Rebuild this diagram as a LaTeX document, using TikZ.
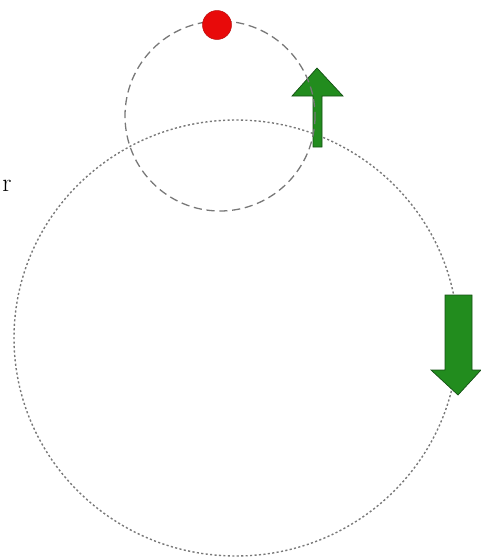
\documentclass[tikz,border=0pt]{standalone}
\usepackage{tikz}
\usetikzlibrary{positioning,calc}
\definecolor{ballred}{RGB}{232,10,10}
\definecolor{arrowgreen}{RGB}{34,140,30}
\definecolor{arrowedge}{RGB}{20,80,20}
\definecolor{orbitgray}{RGB}{120,120,120}
\tikzset{
  small orbit/.style={draw=orbitgray,line width=1.1pt,dash pattern=on 7pt off 4pt},
  big orbit/.style={draw=orbitgray,line width=1.2pt,dash pattern=on 1.8pt off 2pt},
  ball/.style={circle,fill=ballred,draw=ballred!80!black,line width=.4pt,minimum size=29*0.03cm,inner sep=0pt},
  blockarrow/.style={fill=arrowgreen,draw=arrowedge,line width=.6pt,line join=miter},
  lbl/.style={font=\fontsize{22}{24}\selectfont,inner sep=0pt}
}
\begin{document}
\begin{tikzpicture}[x=0.03cm,y=-0.03cm]
  \useasboundingbox (0,0) rectangle (481,557);
  % big orbit
  \coordinate (cs) at (220,116);
  \coordinate (cb) at (236,338);
  \draw[big orbit] (cb) ellipse[x radius=222,y radius=218];
  % velocity arrows
  \draw[blockarrow] (313,147) -- (313,96) -- (292,96) -- (317,68)
    -- (343,96) -- (322,96) -- (322,147) -- cycle;
  \draw[blockarrow] (445,295) -- (472,295) -- (472,370) -- (481,370)
    -- (458,395) -- (431,370) -- (445,370) -- cycle;
  % small orbit and the ball on it
  \draw[small orbit] (cs) circle[radius=95];
  \node[ball] (ball) at (217,25) {};
  \node[lbl] (r) at (7,186) {r};
\end{tikzpicture}
\end{document}
